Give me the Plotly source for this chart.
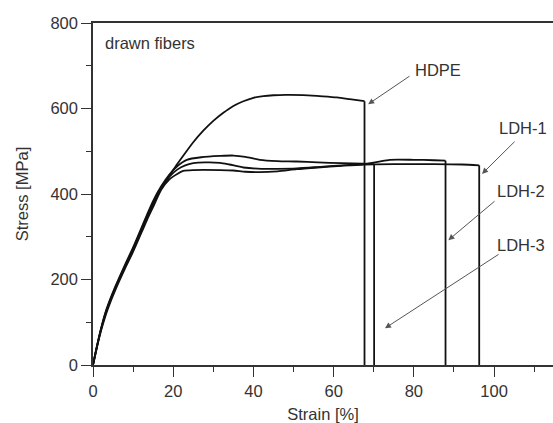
import plotly.graph_objects as go

# Stress-strain curves of drawn fibers (strain in %, stress in MPa)
hdpe_strain = [0, 1, 2, 3, 4, 5.5, 8, 10, 13.4, 15, 17, 19, 21, 23, 25, 27.5, 30, 32.5, 35, 37.5, 40,
               42.5, 45, 48, 52.4, 56.5, 60.8, 64, 67.7, 67.7]
hdpe_stress = [0, 44, 84, 118, 145, 180, 232, 272, 347, 380, 414, 442, 470, 496, 521, 548, 571, 590, 606, 617, 625,
               629, 631, 632, 631.5, 629, 626, 622, 617, 0]

ldh1_strain = [0, 1, 2, 3, 4, 5.5, 8, 10, 13.4, 15, 17, 19, 21, 22.5, 25, 31.7, 35, 38, 41.6, 46, 50.8,
               56, 62, 67.5, 75, 85, 92, 96.3, 96.3]
ldh1_stress = [0, 42, 80, 112, 139, 174, 226, 265, 338, 370, 410, 434, 447, 454, 456, 456, 455, 452, 451, 453, 458,
               462, 466, 469, 470, 470, 469, 467, 0]

ldh2_strain = [0, 1, 2, 3, 4, 5.5, 8, 10, 13.4, 15, 17, 19, 21, 23, 25, 28, 31.7, 34, 37.5, 42, 46, 50.8,
               56, 62, 67.5, 71, 74, 80, 85, 87.9, 87.9]
ldh2_stress = [0, 44, 83, 116, 143, 178, 230, 270, 344, 376, 414, 440, 457, 467, 472, 474, 473, 469, 462, 459, 459, 460,
               463, 467, 470, 475, 480, 480, 479, 478, 0]

ldh3_strain = [0, 1, 2, 3, 4, 5.5, 8, 10, 13.4, 15, 17, 19, 21, 23.4, 27, 31.7, 35, 38, 41.6, 46, 50.8,
               56, 62, 67.5, 70.1, 70.1]
ldh3_stress = [0, 45, 85, 120, 147, 182, 235, 275, 350, 384, 418, 445, 465, 480, 486, 489, 490, 487, 480, 477, 476,
               474, 472, 471, 470, 0]

series = [
    ("HDPE", hdpe_strain, hdpe_stress),
    ("LDH-1", ldh1_strain, ldh1_stress),
    ("LDH-2", ldh2_strain, ldh2_stress),
    ("LDH-3", ldh3_strain, ldh3_stress),
]

# label text position (strain, stress) and arrow tail -> tip
labels = {
    "HDPE": dict(pos=(79.8, 690), tail=(79.3, 678), tip=(68.6, 610)),
    "LDH-1": dict(pos=(100.8, 555), tail=(105.5, 526), tip=(97.0, 447)),
    "LDH-2": dict(pos=(100.2, 407), tail=(100.5, 386), tip=(88.6, 292)),
    "LDH-3": dict(pos=(100.2, 280), tail=(101.5, 261), tip=(72.8, 86)),
}

x_ticks = [0, 20, 40, 60, 80, 100]
y_ticks = [0, 200, 400, 600, 800]

fig = go.Figure()
for name, xs, ys in series:
    # smooth loading curve up to the break point
    fig.add_trace(go.Scatter(x=xs[:-1], y=ys[:-1], mode="lines", name=name,
                             line=dict(color="#111111", width=1.8, shape="spline", smoothing=0.7),
                             showlegend=False, hoverinfo="skip"))
    # vertical drop at break
    fig.add_trace(go.Scatter(x=xs[-2:], y=ys[-2:], mode="lines",
                             line=dict(color="#111111", width=1.8),
                             showlegend=False, hoverinfo="skip"))

font = dict(family="Liberation Sans, Arial, sans-serif", size=16.5, color="#333333")

annotations = [dict(x=2.4, y=754, xref="x", yref="y", text="drawn fibers", showarrow=False,
                    xanchor="left", yanchor="middle", font=font)]
for name, d in labels.items():
    annotations.append(dict(x=d["pos"][0], y=d["pos"][1], xref="x", yref="y", text=name,
                            showarrow=False, xanchor="left", yanchor="middle", font=font))
    annotations.append(dict(x=d["tip"][0], y=d["tip"][1], xref="x", yref="y",
                            ax=d["tail"][0], ay=d["tail"][1], axref="x", ayref="y",
                            text="", showarrow=True, arrowhead=2, arrowsize=1.2,
                            arrowwidth=1, arrowcolor="#555555", standoff=0, startstandoff=0))

fig.update_layout(
    width=553, height=423,
    margin=dict(l=93, r=0, t=23, b=58),
    paper_bgcolor="white", plot_bgcolor="white",
    font=font,
    annotations=annotations,
    xaxis=dict(range=[0, 114.7], tickvals=x_ticks, ticks="outside", ticklen=10, tickwidth=1.3,
               tickcolor="#333333", showline=True, linecolor="#333333", linewidth=1.5,
               mirror=True, showgrid=False, zeroline=False,
               minor=dict(dtick=10, ticks="outside", ticklen=5, tickwidth=1.3, tickcolor="#333333"),
               title=dict(text="Strain [%]", standoff=10, font=font), tickfont=font),
    yaxis=dict(range=[0, 800], tickvals=y_ticks, ticks="outside", ticklen=10, tickwidth=1.3,
               tickcolor="#333333", showline=True, linecolor="#333333", linewidth=1.5,
               showgrid=False, zeroline=False,
               minor=dict(dtick=100, ticks="outside", ticklen=5, tickwidth=1.3, tickcolor="#333333"),
               title=dict(text="Stress [MPa]", standoff=18, font=font), tickfont=font),
)

fig.write_html("out.html")
